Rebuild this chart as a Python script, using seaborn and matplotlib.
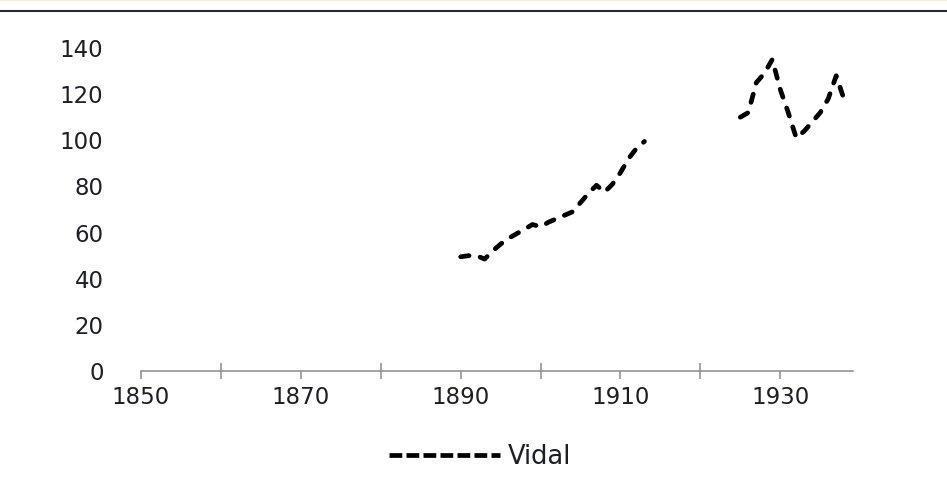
import numpy as np
import pandas as pd
import seaborn as sns
import matplotlib.pyplot as plt
from matplotlib.lines import Line2D

# Vidal series, two runs with a gap (1914-1924 missing)
years_early = [1890, 1891, 1892, 1893, 1894, 1895, 1896, 1897, 1898, 1899, 1900, 1901,
               1902, 1903, 1904, 1905, 1906, 1907, 1908, 1909, 1910, 1911, 1912, 1913]
vidal_early = [49.5, 50, 50, 48.5, 52, 55, 57.5, 59.5, 61.5, 63.5, 62.5, 64.5,
               66, 67.5, 69, 73, 77, 80.5, 77.5, 81, 86, 92, 96.5, 99.5]
years_late = [1925, 1926, 1927, 1928, 1929, 1930, 1931, 1932, 1933, 1934, 1935, 1936, 1937, 1938]
vidal_late = [110, 112, 125, 129, 135, 122, 112, 101, 104, 108, 112, 118, 128, 117.5]

x_ticks = [1850, 1870, 1890, 1910, 1930]
x_minor_ticks = [1860, 1880, 1900, 1920]
y_ticks = [0, 20, 40, 60, 80, 100, 120, 140]
series_name = "Vidal"

df = pd.concat([
    pd.DataFrame({"year": years_early, "value": vidal_early, "seg": 0}),
    pd.DataFrame({"year": years_late, "value": vidal_late, "seg": 1}),
])

sns.set_style("white")
plt.rcParams["font.family"] = ["DejaVu Sans"]
text_color = "#1e1e28"
axis_color = "#8c8c8c"

fig = plt.figure(figsize=(9.47, 4.9), dpi=100)
ax = fig.add_axes([141 / 947, 1 - 371 / 490, (853 - 141) / 947, (371 - 48) / 490])

line_kw = dict(color="black", linewidth=3.4, linestyle=(0, (1.8, 2.4)),
               dash_capstyle="round", solid_capstyle="round")
for seg_id, seg in df.groupby("seg"):
    sns.lineplot(data=seg, x="year", y="value", ax=ax, **line_kw)

ax.set_xlim(1850, 1939.1)
ax.set_ylim(0, 140)
ax.set_xticks(x_ticks)
ax.set_xticks(x_minor_ticks, minor=True)
ax.set_yticks(y_ticks)
ax.set_xlabel("")
ax.set_ylabel("")

for side in ["top", "right", "left"]:
    ax.spines[side].set_visible(False)
ax.spines["bottom"].set_color(axis_color)
ax.spines["bottom"].set_linewidth(1.1)

ax.tick_params(axis="x", which="major", bottom=True, direction="out", length=6, width=1.1,
               color=axis_color, pad=5, labelsize=16.5, labelcolor=text_color)
ax.tick_params(axis="x", which="minor", bottom=True, direction="inout", length=12,
               width=1.1, color=axis_color)
ax.tick_params(axis="y", which="both", left=False, length=0, pad=27, labelsize=16.5,
               labelcolor=text_color)
ax.grid(False)

# legend at the bottom
handle = Line2D([], [], color="black", linewidth=3.4, linestyle=(0, (2.7, 0.9)),
                dash_capstyle="butt")
fig.legend([handle], [series_name], loc="center", bbox_to_anchor=(0.507, 0.067),
           frameon=False, handlelength=4.3, handletextpad=0.3,
           prop={"size": 18.5}, labelcolor=text_color)

# frame decoration at the top of the picture
fig.add_artist(Line2D([0, 1], [1 - 0.5 / 490, 1 - 0.5 / 490], transform=fig.transFigure,
                      color="#ecebd3", linewidth=1.2))
fig.add_artist(Line2D([0, 1], [1 - 11 / 490, 1 - 11 / 490], transform=fig.transFigure,
                      color="#2b2b2b", linewidth=1.5))

fig.savefig("out.png", dpi=100, facecolor="white")
